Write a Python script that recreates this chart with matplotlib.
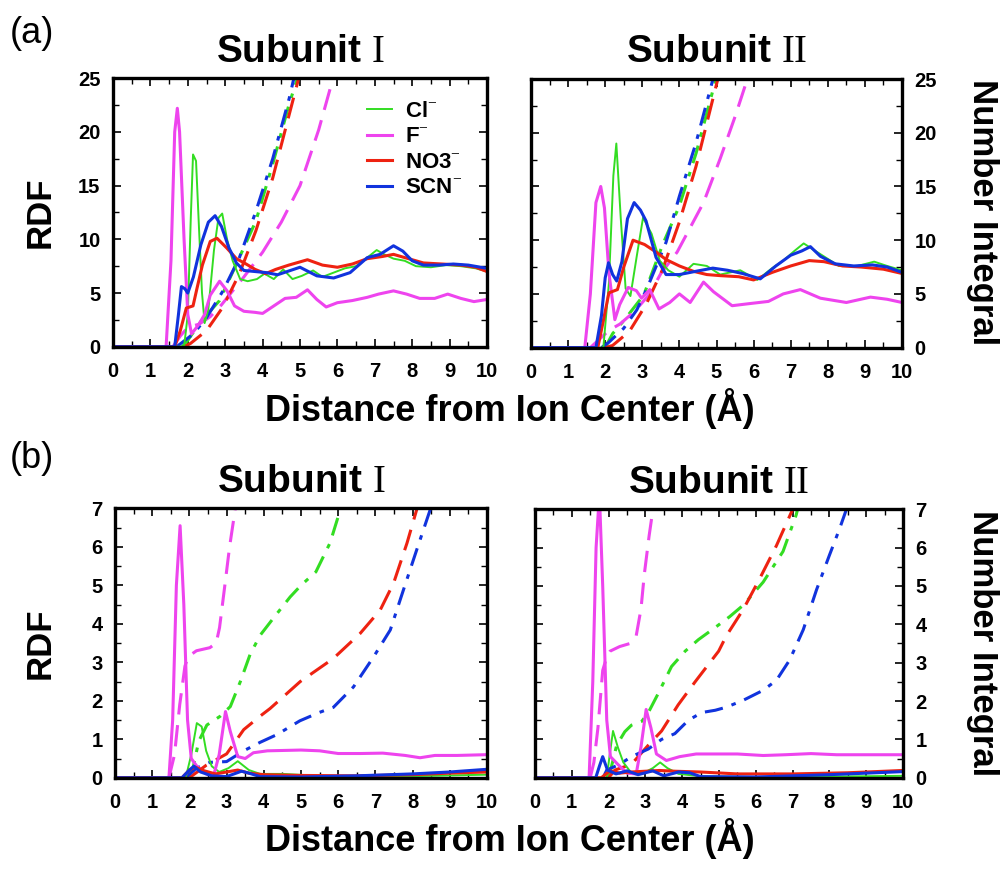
import matplotlib
matplotlib.use("Agg")
import matplotlib.pyplot as plt
from matplotlib.ticker import MultipleLocator

plt.rcParams['font.family'] = ['Liberation Sans', 'DejaVu Sans']
plt.rcParams['mathtext.fontset'] = 'custom'
plt.rcParams['mathtext.rm'] = 'Liberation Serif'

# ---- (a) Subunit I : RDF (solid) and number integral (dashed), (r, g) pairs
a1_cl_rdf = [(0, 0), (1.9, 0), (2.0, 3), (2.08, 12), (2.14, 17.9), (2.22, 17.3), (2.3, 11), (2.38, 5), (2.45, 2.2),
             (2.55, 3.5), (2.7, 9), (2.82, 12.0), (2.92, 12.4), (3.05, 10), (3.2, 8), (3.4, 6.3), (3.6, 6.1),
             (3.85, 6.3), (4.05, 6.8), (4.3, 6.3), (4.55, 7.2), (4.8, 6.3), (5.05, 6.6), (5.35, 7.1), (5.6, 6.5),
             (5.9, 6.9), (6.2, 7.3), (6.5, 7.5), (6.8, 8.3), (7.05, 9.0), (7.25, 8.6), (7.5, 8.2), (7.8, 8.0),
             (8.1, 7.5), (8.5, 7.4), (8.9, 7.6), (9.3, 7.5), (9.7, 7.3), (10, 7.0)]
a1_f_rdf = [(0, 0), (1.42, 0), (1.55, 8), (1.65, 20), (1.72, 22.2), (1.78, 20), (1.9, 10), (2.0, 3), (2.1, 1.2),
            (2.28, 2.0), (2.45, 3.0), (2.6, 4.8), (2.85, 6.1), (3.05, 5.2), (3.25, 3.8), (3.5, 3.3), (3.8, 3.2),
            (4.0, 3.1), (4.3, 3.8), (4.6, 4.5), (4.9, 4.6), (5.2, 5.3), (5.45, 4.4), (5.7, 3.7), (6.0, 4.1),
            (6.4, 4.3), (6.8, 4.6), (7.1, 4.9), (7.5, 5.2), (7.85, 4.9), (8.2, 4.5), (8.6, 4.5), (8.95, 4.9),
            (9.3, 4.5), (9.65, 4.2), (10, 4.4)]
a1_no3_rdf = [(0, 0), (1.65, 0), (1.8, 1.5), (1.96, 3.6), (2.14, 3.8), (2.25, 5.5), (2.39, 7.6), (2.6, 9.8),
              (2.78, 10.1), (3.04, 9.2), (3.3, 8.2), (3.56, 7.7), (3.8, 7.2), (4.08, 6.8), (4.35, 7.2), (4.7, 7.6),
              (5.2, 8.1), (5.6, 7.6), (6.0, 7.4), (6.4, 7.7), (6.8, 8.2), (7.2, 8.4), (7.5, 8.6), (7.9, 8.2),
              (8.3, 7.8), (8.8, 7.7), (9.3, 7.6), (9.7, 7.4), (10, 7.0)]
a1_scn_rdf = [(0, 0), (1.65, 0), (1.75, 3), (1.83, 5.6), (1.92, 5.4), (2.0, 5.0), (2.15, 6.5), (2.35, 9.5),
              (2.55, 11.6), (2.73, 12.2), (2.9, 11.2), (3.1, 9.2), (3.3, 7.8), (3.5, 7.1), (3.8, 7.0), (4.1, 6.9),
              (4.4, 6.7), (5.0, 7.4), (5.45, 6.6), (5.9, 6.4), (6.34, 6.9), (6.8, 8.3), (7.14, 8.6), (7.5, 9.4),
              (7.75, 8.9), (8.0, 8.0), (8.3, 7.6), (8.7, 7.6), (9.1, 7.7), (9.5, 7.6), (10, 7.3)]
a1_cl_int = [(1.85, 0), (2.0, 0.6), (2.36, 2.4), (2.85, 4.3), (3.3, 7.7), (3.82, 11.7), (4.27, 17.0),
             (4.71, 22.6), (4.95, 25.2)]
a1_f_int = [(1.6, 0), (1.8, 1.0), (2.0, 1.8), (2.3, 2.1), (2.6, 2.8), (2.9, 3.9), (3.2, 5.2), (3.5, 6.5),
            (4.0, 8.8), (4.5, 11.6), (5.0, 15.0), (5.5, 20.2), (5.9, 25.2)]
a1_no3_int = [(1.9, 0), (2.07, 0.3), (2.5, 1.5), (2.94, 3.7), (3.38, 6.8), (3.82, 10.8), (4.27, 15.7),
              (4.71, 21.6), (4.98, 25.2)]
a1_scn_int = [(1.7, 0), (2.15, 1.2), (2.5, 2.7), (2.94, 5.2), (3.38, 8.3), (3.82, 12.6), (4.27, 17.5),
              (4.71, 23.1), (4.85, 25.2)]

# ---- (a) Subunit II
a2_cl_rdf = [(0, 0), (1.95, 0), (2.1, 6), (2.22, 16), (2.3, 19.0), (2.42, 12), (2.55, 5.5), (2.68, 4.8),
             (2.85, 8.5), (3.02, 12.1), (3.25, 10.6), (3.47, 8.1), (3.7, 7.2), (4.0, 6.6), (4.38, 7.8),
             (4.74, 7.6), (5.1, 6.8), (5.64, 7.2), (6.1, 6.3), (6.5, 7.4), (6.8, 8.1), (7.1, 9.0), (7.35, 9.7),
             (7.8, 8.7), (8.3, 7.6), (8.8, 7.6), (9.25, 8.0), (9.6, 7.6), (10, 7.2)]
a2_f_rdf = [(0, 0), (1.45, 0), (1.6, 5), (1.75, 13.5), (1.88, 15.0), (1.98, 13), (2.1, 7), (2.26, 2.6),
            (2.39, 4.0), (2.62, 5.6), (2.84, 5.3), (2.98, 4.6), (3.2, 5.4), (3.45, 3.6), (3.74, 4.2), (4.0, 5.0),
            (4.29, 4.2), (4.65, 6.1), (4.92, 5.2), (5.42, 3.9), (5.9, 4.1), (6.4, 4.3), (6.8, 5.0), (7.26, 5.4),
            (7.8, 4.6), (8.5, 4.2), (9.15, 4.7), (9.6, 4.5), (10, 4.2)]
a2_no3_rdf = [(0, 0), (1.8, 0), (1.95, 2.5), (2.1, 5.1), (2.33, 5.4), (2.5, 7.5), (2.75, 10.0), (3.06, 9.6),
              (3.37, 8.9), (3.64, 8.2), (4.0, 7.6), (4.38, 7.1), (4.74, 6.8), (5.1, 6.7), (5.6, 6.6), (6.0, 6.3),
              (6.5, 7.0), (7.0, 7.6), (7.5, 8.1), (7.9, 8.0), (8.4, 7.6), (8.9, 7.5), (9.5, 7.3), (10, 6.9)]
a2_scn_rdf = [(0, 0), (1.75, 0), (1.9, 3), (2.0, 6.5), (2.09, 7.9), (2.2, 6.8), (2.31, 6.2), (2.45, 8),
              (2.6, 12), (2.78, 13.5), (2.95, 12.8), (3.1, 11.8), (3.37, 8.4), (3.64, 6.8), (4.0, 6.8),
              (4.44, 7.1), (4.9, 7.4), (5.3, 7.2), (5.7, 6.9), (6.18, 6.4), (6.6, 7.6), (7.0, 8.6), (7.3, 9.0),
              (7.53, 9.4), (7.8, 8.5), (8.2, 7.8), (8.7, 7.6), (9.2, 7.7), (9.6, 7.5), (10, 7.0)]
a2_cl_int = [(2.0, 0), (2.2, 1.3), (2.5, 2.5), (3.04, 4.9), (3.55, 9.6), (4.0, 13.2), (4.45, 18.1), (5.0, 25.2)]
a2_f_int = [(1.6, 0), (1.85, 0.8), (2.1, 1.6), (2.4, 2.2), (2.8, 3.4), (3.2, 5.0), (3.5, 6.9), (3.94, 8.9),
            (4.65, 13.5), (5.1, 17.6), (5.5, 21.5), (5.85, 25.2)]
a2_no3_int = [(2.0, 0), (2.2, 0.2), (2.65, 1.5), (3.1, 4.0), (3.55, 7.3), (4.0, 11.7), (4.45, 16.9), (5.05, 25.2)]
a2_scn_int = [(1.9, 0), (2.1, 0.5), (2.5, 1.8), (2.85, 3.5), (3.15, 5.7), (3.64, 9.8), (4.0, 14.1),
              (4.45, 19.1), (4.92, 25.2)]

# ---- (b) Subunit I
b1_cl_rdf = [(0, 0), (1.9, 0), (2.05, 0.6), (2.2, 1.42), (2.33, 1.33), (2.45, 0.7), (2.6, 0.3), (2.8, 0.15),
             (3.05, 0.25), (3.3, 0.43), (3.6, 0.2), (3.9, 0.1), (4.5, 0.1), (5.5, 0.05), (7, 0.03), (8.5, 0.05),
             (10, 0.08)]
b1_f_rdf = [(0, 0), (1.45, 0), (1.55, 1.5), (1.65, 5), (1.75, 6.55), (1.85, 4.5), (1.95, 1.5), (2.05, 0.5),
            (2.2, 0.3), (2.45, 0.1), (2.65, 0.05), (2.8, 0.6), (2.97, 1.72), (3.1, 1.2), (3.3, 0.55), (3.5, 0.5),
            (3.72, 0.65), (4.1, 0.7), (5.0, 0.72), (5.5, 0.7), (6.0, 0.63), (6.6, 0.63), (7.2, 0.64), (7.8, 0.58),
            (8.2, 0.52), (8.6, 0.58), (9.2, 0.58), (10, 0.6)]
b1_no3_rdf = [(0, 0), (1.8, 0), (2.0, 0.2), (2.15, 0.28), (2.4, 0.18), (2.7, 0.1), (3.0, 0.15), (3.3, 0.2),
              (3.6, 0.12), (4.0, 0.08), (5, 0.06), (6.5, 0.05), (8, 0.08), (9, 0.12), (10, 0.15)]
b1_scn_rdf = [(0, 0), (1.8, 0), (2.0, 0.2), (2.12, 0.3), (2.3, 0.15), (2.6, 0.05), (3.0, 0.03), (3.4, 0.17),
              (3.6, 0.12), (3.9, 0.03), (5, 0.02), (6.5, 0.05), (8, 0.1), (9, 0.15), (10, 0.22)]
b1_cl_int = [(1.95, 0), (2.1, 0.26), (2.25, 0.95), (2.47, 1.37), (2.83, 1.6), (3.1, 1.85), (3.37, 2.5),
             (3.63, 3.2), (3.9, 3.7), (4.26, 4.15), (4.71, 4.7), (5.0, 5.0), (5.4, 5.35), (5.78, 6.1), (6.1, 7.1)]
b1_f_int = [(1.45, 0), (1.6, 0.6), (1.74, 1.9), (1.88, 2.9), (1.97, 3.15), (2.19, 3.3), (2.55, 3.38),
            (2.72, 3.5), (2.81, 3.9), (2.94, 4.9), (3.08, 6.0), (3.25, 7.1)]
b1_no3_int = [(2.0, 0), (2.46, 0.33), (3.0, 0.62), (3.46, 1.25), (3.9, 1.6), (4.17, 1.8), (4.98, 2.5),
              (5.87, 3.1), (6.59, 3.75), (7.13, 4.36), (7.49, 5.06), (7.85, 6.1), (8.15, 7.1)]
b1_scn_int = [(1.9, 0), (2.19, 0.25), (2.55, 0.4), (3.0, 0.42), (3.46, 0.7), (3.9, 0.92), (4.35, 1.12),
              (4.97, 1.48), (5.5, 1.7), (5.87, 1.83), (6.41, 2.36), (6.95, 3.14), (7.4, 3.84), (7.76, 4.9),
              (8.12, 5.95), (8.52, 7.1)]

# ---- (b) Subunit II
b2_cl_rdf = [(0, 0), (1.95, 0), (2.03, 0.6), (2.12, 1.22), (2.25, 0.8), (2.4, 0.4), (2.6, 0.15), (2.9, 0.1),
             (3.2, 0.25), (3.4, 0.4), (3.6, 0.25), (3.9, 0.1), (4.5, 0.04), (6, 0.02), (8, 0.03), (10, 0.05)]
b2_f_rdf = [(0, 0), (1.47, 0), (1.57, 2.5), (1.66, 6), (1.75, 7.4), (1.84, 5), (1.95, 1.5), (2.05, 0.55),
            (2.25, 0.35), (2.5, 0.12), (2.75, 0.1), (2.88, 0.8), (3.02, 1.78), (3.15, 1.3), (3.3, 0.62),
            (3.57, 0.45), (3.93, 0.55), (4.38, 0.62), (5.0, 0.62), (5.5, 0.62), (6.2, 0.58), (6.8, 0.6),
            (7.5, 0.63), (8.2, 0.6), (9.0, 0.6), (10, 0.6)]
b2_no3_rdf = [(0, 0), (1.8, 0), (2.04, 0.18), (2.3, 0.12), (2.6, 0.15), (3.0, 0.17), (3.39, 0.19), (3.8, 0.17),
              (4.5, 0.15), (5.5, 0.1), (7, 0.1), (8.5, 0.13), (10, 0.19)]
b2_scn_rdf = [(0, 0), (1.65, 0), (1.75, 0.3), (1.84, 0.55), (1.97, 0.2), (2.2, 0.1), (2.5, 0.18), (2.8, 0.08),
              (3.2, 0.18), (3.5, 0.05), (3.9, 0.15), (4.2, 0.13), (4.5, 0.03), (6, 0.02), (8, 0.08), (9, 0.12),
              (10, 0.16)]
b2_cl_int = [(2.0, 0), (2.08, 0.3), (2.22, 0.85), (2.44, 1.2), (2.62, 1.37), (2.9, 1.47), (3.08, 1.7),
             (3.35, 2.2), (3.71, 2.9), (4.08, 3.3), (4.44, 3.6), (4.9, 3.92), (5.29, 4.2), (5.66, 4.5),
             (6.2, 5.1), (6.74, 5.9), (7.1, 6.86), (7.16, 7.1)]
b2_f_int = [(1.5, 0), (1.6, 0.4), (1.71, 1.3), (1.84, 2.8), (1.95, 3.15), (2.04, 3.3), (2.3, 3.42), (2.58, 3.5),
            (2.75, 3.7), (2.88, 4.4), (2.97, 5.3), (3.1, 6.3), (3.22, 7.1)]
b2_no3_int = [(2.0, 0), (2.17, 0.2), (2.62, 0.35), (3.08, 0.85), (3.44, 1.22), (3.89, 1.9), (4.35, 2.5),
              (4.99, 3.3), (5.2, 3.7), (5.66, 4.39), (6.1, 5.18), (6.56, 6.05), (7.05, 7.1)]
b2_scn_int = [(1.85, 0), (1.95, 0.2), (2.3, 0.35), (2.62, 0.55), (3.08, 0.75), (3.44, 1.0), (3.8, 1.15),
              (4.17, 1.5), (4.53, 1.7), (4.9, 1.76), (5.2, 1.84), (5.66, 2.02), (6.2, 2.28), (6.56, 2.54),
              (6.92, 3.07), (7.29, 3.86), (7.65, 4.9), (8.0, 5.8), (8.28, 6.5), (8.5, 7.1)]

ions = ['Cl', 'F', 'NO3', 'SCN']
ion_labels = [r'Cl$^{-}$', r'F$^{-}$', r'NO3$^{-}$', r'SCN$^{-}$']
colors = {'Cl': '#33dd22', 'F': '#ee44ee', 'NO3': '#ee2211', 'SCN': '#1133dd'}
rdf_lw = {'Cl': 1.4, 'F': 2.2, 'NO3': 2.2, 'SCN': 2.2}
int_dash = {'Cl': (0, (6, 3, 1.5, 3)), 'F': (0, (7, 3.5)), 'NO3': (0, (7, 3.5)), 'SCN': (0, (6, 3, 1.5, 3))}

panels = {
    'a1': ([a1_cl_rdf, a1_f_rdf, a1_no3_rdf, a1_scn_rdf], [a1_cl_int, a1_f_int, a1_no3_int, a1_scn_int]),
    'a2': ([a2_cl_rdf, a2_f_rdf, a2_no3_rdf, a2_scn_rdf], [a2_cl_int, a2_f_int, a2_no3_int, a2_scn_int]),
    'b1': ([b1_cl_rdf, b1_f_rdf, b1_no3_rdf, b1_scn_rdf], [b1_cl_int, b1_f_int, b1_no3_int, b1_scn_int]),
    'b2': ([b2_cl_rdf, b2_f_rdf, b2_no3_rdf, b2_scn_rdf], [b2_cl_int, b2_f_int, b2_no3_int, b2_scn_int]),
}

# axes rectangles in figure fraction
rects = {
    'a1': [0.113, 0.601, 0.374, 0.309],
    'a2': [0.531, 0.600, 0.371, 0.309],
    'b1': [0.115, 0.105, 0.372, 0.310],
    'b2': [0.535, 0.105, 0.368, 0.309],
}
titles = {'a1': r'Subunit $\mathrm{I}$', 'a2': r'Subunit $\mathrm{II}$',
          'b1': r'Subunit $\mathrm{I}$', 'b2': r'Subunit $\mathrm{II}$'}

fig = plt.figure(figsize=(10, 8.69), dpi=100)

for key, (rdfs, ints) in panels.items():
    ax = fig.add_axes(rects[key])
    for ion, rdf, nint in zip(ions, rdfs, ints):
        ax.plot([p[0] for p in nint], [p[1] for p in nint], color=colors[ion], lw=2.2,
                linestyle=int_dash[ion])
    for ion, lab, rdf in zip(ions, ion_labels, rdfs):
        ax.plot([p[0] for p in rdf], [p[1] for p in rdf], color=colors[ion], lw=rdf_lw[ion], label=lab)

    ax.set_xlim(0, 10)
    ax.xaxis.set_major_locator(MultipleLocator(1))
    ax.xaxis.set_minor_locator(MultipleLocator(0.5))
    if key.startswith('a'):
        ax.set_ylim(0, 25)
        ax.yaxis.set_major_locator(MultipleLocator(5))
        ax.yaxis.set_minor_locator(MultipleLocator(2.5))
    else:
        ax.set_ylim(0, 7)
        ax.yaxis.set_major_locator(MultipleLocator(1))
        ax.yaxis.set_minor_locator(MultipleLocator(0.5))

    left = key.endswith('1')
    ax.tick_params(which='both', direction='in', top=True, right=True,
                   labelleft=left, labelright=not left, labelsize=14.5)
    ax.tick_params(axis='x', which='major', pad=11)
    ax.tick_params(axis='y', which='major', pad=9)
    ax.tick_params(which='major', length=6, width=1.2)
    ax.tick_params(which='minor', length=4, width=1.0)
    for lbl in ax.get_xticklabels() + ax.get_yticklabels():
        lbl.set_fontweight('bold')
    for sp in ax.spines.values():
        sp.set_linewidth(2.4)

    ax.set_title(titles[key], fontsize=28, fontweight='bold', pad=12)

    if key == 'a1':
        ax.legend(loc='upper left', bbox_to_anchor=(0.68, 0.915), frameon=False,
                  prop={'weight': 'bold', 'size': 16}, handlelength=1.1, handletextpad=0.6,
                  labelspacing=0.2, borderpad=0, borderaxespad=0)

# panel letters and shared axis labels
fig.text(0.032, 0.962, '(a)', fontsize=26, ha='center', va='center')
fig.text(0.032, 0.472, '(b)', fontsize=26, ha='center', va='center')
for yc in (0.756, 0.26):
    fig.text(0.04, yc, 'RDF', fontsize=25, fontweight='bold', rotation=90, ha='center', va='center')
    fig.text(0.982, yc, 'Number Integral', fontsize=25, fontweight='bold', rotation=270,
             ha='center', va='center')
fig.text(0.51, 0.530, 'Distance from Ion Center (Å)', fontsize=26, fontweight='bold', ha='center', va='center')
fig.text(0.51, 0.035, 'Distance from Ion Center (Å)', fontsize=26, fontweight='bold', ha='center', va='center')

fig.savefig('out.png', dpi=100)
